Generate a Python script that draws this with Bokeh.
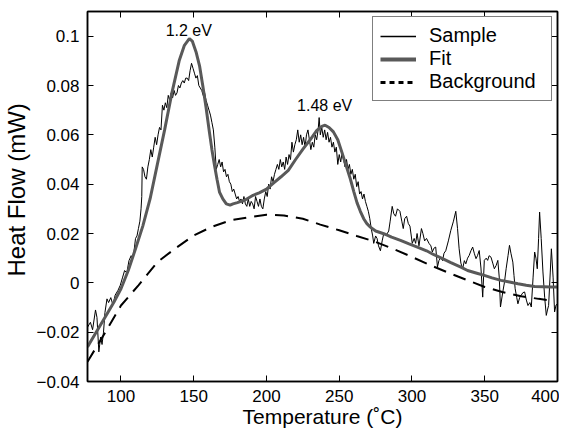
from bokeh.plotting import figure
from bokeh.models import Range1d, LinearAxis, FixedTicker, Legend, LegendItem, ColumnDataSource
from bokeh.core.properties import value
from bokeh.embed import file_html
from bokeh.resources import INLINE

FONT = "Liberation Sans"

# ---------------- data ----------------
sample_T = [77, 79, 80.5, 82.5, 83.5, 84.8, 86, 87, 88, 89, 90.4, 91.5, 93, 94.5, 96, 98, 99.5,
            101, 102.5, 104, 105.5, 107, 108, 109, 110, 111, 112, 113, 113.8, 114.3, 114.6,
            115.5, 116.5, 117.5, 118.5, 119.5, 120.5, 121.5, 122.5, 123.5, 124.5, 125.5, 126.5,
            127.5, 128.5, 129.5, 130.5, 131.5, 132.5, 133.5, 134.5, 135.5, 136.5, 137.5, 138.5,
            139.5, 140.5, 141.5, 142.5, 143.5, 144.5, 145.5, 146.5, 147.5, 148.5, 149.5, 150.5,
            151.5, 152.5, 153.5, 154.5, 155.5, 156.5, 157.5, 158.5, 159.5, 160.5, 161.5, 162.5,
            163.5, 164.5, 165.5, 166.5, 167.5, 168.5, 169.5, 170.5, 171.5, 172.5, 173.5, 174.5,
            175.5, 176.5, 177.5, 178.5, 179.5, 180.5, 181.5, 182.5, 183.5, 184.5, 185.5, 186.5,
            187.5, 188.5, 189.5, 190.5, 191.5, 192.5, 193.5, 194.5, 195.5, 196.5, 197.5, 198.5,
            199.5, 200.5, 201.5, 202.5, 203.5, 204.5, 205.5, 206.5, 207.5, 208.5, 209.5, 210.5,
            211.5, 212.5, 213.5, 214.5, 215.5, 216.5, 217.5, 218.5, 219.5, 220.5, 221.5, 222.5,
            223.5, 224.5, 225.5, 226.5, 227.5, 228.5, 229.5, 230.5, 231.5, 232.5, 233.5, 234.5,
            235.5, 236.2, 237, 238, 239, 240, 241, 242, 243, 244, 245, 246, 247, 248, 249, 250,
            251, 252, 253, 254, 255, 256, 257, 258, 259, 260, 261, 262, 263, 264, 265, 266, 267,
            268, 269, 270, 271, 272, 273, 273.7, 275, 276, 277, 278.3, 279.5, 280.6, 282, 284,
            285, 286.4, 287.5, 288.7, 290, 291.7, 293, 294, 295, 296.3, 297.5, 298.6, 300.2,
            301.5, 302.5, 303.5, 304.8, 306.5, 307.5, 308.7, 310, 311.7, 313, 314, 315, 316.3,
            317.5, 318.5, 319.8, 321, 322, 323.2, 325, 326.7, 328.5, 330.1, 331.3, 332.4, 333.6,
            334.8, 336, 337, 338.2, 339.3, 340.5, 341.7, 342.8, 344, 345, 346.2, 347.4, 348.6,
            349.7, 351, 352, 353, 354.3, 355.5, 356.6, 357.8, 359, 360, 360.8, 362.4, 363.5,
            364.7, 366, 367, 368, 369.3, 370.1, 370.9, 372, 372.8, 374, 375, 376.2, 377.4, 378.6,
            379.7, 381, 382, 383.2, 384.3, 385.2, 386.1, 387, 387.7, 388.8, 390, 391.2, 392.3,
            393.1, 393.9, 395, 395.8, 397, 398, 399, 400]
sample_flow = [-0.018, -0.016, -0.019, -0.011, -0.014, -0.028, -0.022, -0.025, -0.020, -0.012,
               -0.0065, -0.008, -0.006, -0.009, -0.005, -0.003, -0.001, 0.002, 0.005, 0.004,
               0.009, 0.011, 0.010, 0.013, 0.018, 0.019, 0.022, 0.025, 0.030, 0.035, 0.047,
               0.046, 0.043, 0.042, 0.047, 0.050, 0.054, 0.051, 0.055, 0.059, 0.056, 0.060, 0.063,
               0.062, 0.072, 0.070, 0.073, 0.071, 0.076, 0.074, 0.077, 0.075, 0.078, 0.076, 0.077,
               0.080, 0.079, 0.081, 0.082, 0.081, 0.083, 0.083, 0.082, 0.086, 0.089, 0.087, 0.085,
               0.083, 0.084, 0.080, 0.079, 0.078, 0.076, 0.077, 0.074, 0.072, 0.070, 0.068, 0.065,
               0.062, 0.055, 0.046, 0.048, 0.050, 0.047, 0.049, 0.045, 0.046, 0.043, 0.044, 0.041,
               0.040, 0.037, 0.038, 0.036, 0.034, 0.035, 0.033, 0.034, 0.032, 0.035, 0.032, 0.031,
               0.034, 0.031, 0.033, 0.032, 0.030, 0.035, 0.033, 0.031, 0.034, 0.031, 0.030, 0.034,
               0.037, 0.035, 0.040, 0.038, 0.043, 0.041, 0.044, 0.046, 0.048, 0.046, 0.050, 0.047,
               0.049, 0.046, 0.051, 0.048, 0.052, 0.050, 0.057, 0.053, 0.056, 0.058, 0.062, 0.057,
               0.060, 0.056, 0.059, 0.055, 0.060, 0.062, 0.058, 0.054, 0.057, 0.055, 0.060, 0.058,
               0.062, 0.067, 0.060, 0.063, 0.059, 0.062, 0.058, 0.061, 0.057, 0.059, 0.055, 0.057,
               0.053, 0.055, 0.048, 0.052, 0.049, 0.053, 0.050, 0.047, 0.050, 0.046, 0.048, 0.044,
               0.046, 0.042, 0.044, 0.039, 0.041, 0.036, 0.037, 0.034, 0.036, 0.033, 0.031, 0.029,
               0.026, 0.022, 0.019, 0.016, 0.019, 0.018, 0.015, 0.013, 0.017, 0.020, 0.019, 0.021,
               0.025, 0.031, 0.028, 0.027, 0.030, 0.029, 0.025, 0.022, 0.026, 0.027, 0.024, 0.023,
               0.016, 0.018, 0.016, 0.020, 0.015, 0.022, 0.020, 0.017, 0.018, 0.016, 0.015, 0.0125,
               0.014, 0.0145, 0.0064, 0.009, 0.0103, 0.009, 0.012, 0.013, 0.017, 0.0213, 0.025,
               0.029, 0.022, 0.0138, 0.008, 0.0057, 0.009, 0.0077, 0.010, 0.0111, 0.013, 0.0145,
               0.012, 0.0098, 0.011, 0.0131, 0.006, -0.0058, 0.0091, 0.010, 0.0091, 0.011, 0.0104,
               0.008, 0.0057, 0.007, 0.0091, 0.002, -0.0098, -0.0037, 0.000, 0.0057, 0.011, 0.0152,
               0.012, 0.0084, 0.003, -0.0024, -0.006, -0.0085, -0.006, -0.0051, -0.004, -0.0037,
               -0.007, -0.0092, -0.008, -0.0098, 0.002, 0.0125, 0.010, 0.0057, 0.018, 0.0287,
               0.018, 0.0044, -0.006, -0.0132, -0.011, -0.0092, 0.004, 0.0138, 0.002, -0.0118,
               -0.009, -0.0085]

fit_T = [77, 80, 85, 90, 95, 100, 105, 110, 115, 120, 125, 130, 135, 140, 143.6, 147, 149, 151.6,
         154, 156.2, 158.5, 160.8, 162.5, 164.3, 166, 167.7, 170, 172.4, 175, 177, 180, 185,
         190.8, 195, 200, 205, 210, 215, 220, 225.3, 230, 234.6, 238, 240.3, 243, 246, 249,
         251.8, 255, 257.6, 260, 262.2, 264.5, 266.8, 269, 271.4, 275, 280.6, 286, 292.1, 298,
         303.7, 310, 315.1, 321, 326.7, 333.6, 338.2, 344, 349.7, 355, 361.2, 367, 372.8, 378.5,
         384.3, 390, 395.8, 400]
fit_flow = [-0.026, -0.023, -0.018, -0.013, -0.008, -0.0024, 0.005, 0.0138, 0.023, 0.034, 0.048,
            0.062, 0.077, 0.090, 0.0963, 0.099, 0.098, 0.0936, 0.088, 0.080, 0.071, 0.061, 0.054,
            0.0476, 0.042, 0.0368, 0.034, 0.032, 0.0315, 0.032, 0.0325, 0.0335, 0.0355, 0.0365,
            0.038, 0.0405, 0.043, 0.0456, 0.050, 0.0544, 0.058, 0.0618, 0.0634, 0.0639, 0.063,
            0.0612, 0.058, 0.053, 0.047, 0.0422, 0.037, 0.0325, 0.029, 0.026, 0.024, 0.0226,
            0.021, 0.0199, 0.0185, 0.0172, 0.0158, 0.0145, 0.013, 0.0114, 0.0098, 0.0082, 0.0064,
            0.005, 0.004, 0.003, 0.002, 0.001, 0.0003, -0.0004, -0.001, -0.0015, -0.0016,
            -0.0017, -0.0017]

bg_T = [77, 90, 100, 112, 125, 137, 150, 162, 175, 187, 200, 212, 225, 237, 250, 262, 275, 287,
        300, 312, 325, 337, 350, 362, 375, 387, 395]
bg_flow = [-0.032, -0.0193, -0.0092, -0.001, 0.0084, 0.0138, 0.0192, 0.0226, 0.0253, 0.0265,
           0.0276, 0.0273, 0.026, 0.0236, 0.0213, 0.019, 0.0166, 0.0138, 0.0105, 0.0073, 0.0041,
           0.0013, -0.0017, -0.0037, -0.0054, -0.0065, -0.0071]

peak_labels = ["1.2 eV", "1.48 eV"]
peak_T = [146.6, 240]
peak_flow = [0.1025, 0.072]

x_ticks = [100, 150, 200, 250, 300, 350, 400]
y_ticks = [-0.04, -0.02, 0, 0.02, 0.04, 0.06, 0.08, 0.1]
y_tick_labels = ["\u22120.04", "\u22120.02", "0", "0.02", "0.04", "0.06", "0.08", "0.1"]

legend_labels = ["Sample", "Fit", "Background"]

# ---------------- figure ----------------
p = figure(width=559, height=433,
           x_range=Range1d(77, 400), y_range=Range1d(-0.04, 0.11),
           output_backend="svg", toolbar_location=None,
           min_border_left=81, min_border_top=11, min_border_right=2, min_border_bottom=52)
p.xgrid.visible = False
p.ygrid.visible = False
p.outline_line_color = "black"
p.outline_line_width = 1.5
p.background_fill_color = "white"
p.border_fill_color = "white"

bg_r = p.line(bg_T, bg_flow, line_color="black", line_width=2, line_dash="13 8")
s_r = p.line(sample_T, sample_flow, line_color="black", line_width=1)
f_r = p.line(fit_T, fit_flow, line_color="#595959", line_width=3)

# legend-only renderers (placed outside the visible x range so only their legend glyph shows)
ls = p.line([-100, -90], [0, 0], line_color="black", line_width=1.5)
lf = p.line([-100, -90], [0, 0], line_color="#595959", line_width=4)
lb = p.line([-100, -90], [0, 0], line_color="black", line_width=3, line_dash="5 4")

src = ColumnDataSource(dict(x=peak_T, y=peak_flow, t=peak_labels))
p.text(x="x", y="y", text="t", source=src, text_align="center", text_baseline="middle",
       text_font=value(FONT), text_font_size="16px", text_color="black")


def style_axis(ax, show_labels=True):
    ax.major_tick_in = 6
    ax.major_tick_out = 0
    ax.minor_tick_in = 0
    ax.minor_tick_out = 0
    ax.axis_line_color = "black"
    ax.axis_line_width = 1.5
    ax.major_tick_line_color = "black"
    ax.major_tick_line_width = 1
    ax.major_label_text_font = FONT
    ax.major_label_text_color = "black"
    ax.axis_label_text_font = FONT
    ax.axis_label_text_font_style = "normal"
    ax.axis_label_text_color = "black"
    if show_labels:
        ax.major_label_text_font_size = "17px"
    else:
        ax.major_label_text_font_size = "0px"
        ax.major_label_standoff = 0


xax = p.xaxis[0]
xax.ticker = FixedTicker(ticks=x_ticks)
style_axis(xax)
xax.axis_label = "Temperature (\u02daC)"
xax.axis_label_text_font_size = "21px"
xax.major_label_standoff = 8
xax.axis_label_standoff = 0

yax = p.yaxis[0]
yax.ticker = FixedTicker(ticks=y_ticks)
style_axis(yax)
yax.major_label_overrides = {t: l for t, l in zip(y_ticks, y_tick_labels)}
yax.axis_label = "\u00a0\u00a0Heat Flow (mW)"
yax.axis_label_text_font_size = "24px"
yax.major_label_standoff = 8
yax.axis_label_standoff = 3

top = LinearAxis(ticker=FixedTicker(ticks=x_ticks))
style_axis(top, False)
p.add_layout(top, "above")
right = LinearAxis(ticker=FixedTicker(ticks=y_ticks))
style_axis(right, False)
p.add_layout(right, "right")

legend = Legend(items=[LegendItem(label=legend_labels[0], renderers=[ls]),
                       LegendItem(label=legend_labels[1], renderers=[lf]),
                       LegendItem(label=legend_labels[2], renderers=[lb])],
                location="top_right")
legend.margin = 5
legend.padding = 7
legend.spacing = 0
legend.label_height = 20
legend.glyph_height = 20
legend.glyph_width = 36
legend.label_width = 115
legend.label_standoff = 13
legend.label_text_font = FONT
legend.label_text_font_size = "20px"
legend.label_text_color = "black"
legend.border_line_color = "black"
legend.border_line_width = 1.5
legend.background_fill_alpha = 1.0
p.add_layout(legend, "center")

open("out.html", "w").write(file_html(p, INLINE))
